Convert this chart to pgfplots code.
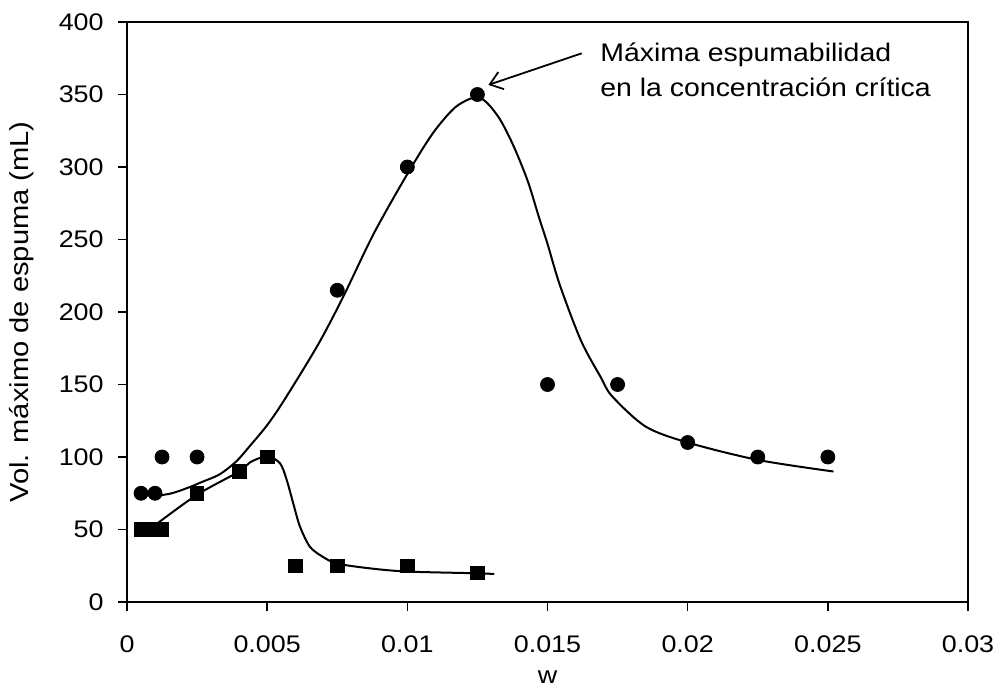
\documentclass[border=0pt]{standalone}
\usepackage{fontspec}
\setmainfont{Liberation Sans}[FakeStretch=1.12]
\usepackage{pgfplots}
\pgfplotsset{compat=1.18}
\usetikzlibrary{arrows.meta}

\begin{document}
\begin{tikzpicture}[x=1bp,y=1bp]
\useasboundingbox (0,0) rectangle (497.5,342);
\begin{axis}[
  at={(63.5bp,41bp)}, anchor=south west,
  scale only axis, width=420.5bp, height=290bp,
  xmin=0, xmax=0.03, ymin=0, ymax=400,
  xtick={0,0.005,0.01,0.015,0.02,0.025,0.03},
  xticklabels={0,0.005,0.01,0.015,0.02,0.025,0.03},
  ytick={0,50,...,400},
  tick align=outside, major tick length=4.5bp,
  xtick pos=bottom, ytick pos=left,
  axis line style={line width=0.75bp},
  every tick/.style={line width=0.75bp, black},
  font=\fontsize{12bp}{14bp}\selectfont,
  /pgf/number format/assume math mode=true,
  xticklabel style={anchor=north, inner sep=0pt, yshift=-12bp},
  yticklabel style={anchor=east, inner sep=0pt, xshift=-7bp},
  xlabel={w}, ylabel={Vol. máximo de espuma (mL)},
  xlabel style={at={(axis description cs:0.5,-0.13)}, anchor=center, inner sep=0pt},
  ylabel style={at={(axis description cs:-0.125,0.5)}, anchor=center, inner sep=0pt,
                font=\fontsize{13bp}{15bp}\selectfont},
  clip=false,
]
% fitted trend lines
\addplot[black, line width=1bp, smooth, no markers] coordinates {
  (0.001,73) (0.0016,75) (0.0022,79) (0.0027,83) (0.0033,88) (0.0039,97)
  (0.0044,108) (0.0050,122) (0.0056,139) (0.0068,177) (0.0077,210)
  (0.0088,254) (0.00998,294.5) (0.0109,323) (0.0117,341) (0.0124,348)
  (0.0128,345) (0.0133,333) (0.0138,314) (0.0143,290) (0.0147,265)
  (0.0150,247) (0.01545,218) (0.0162,180) (0.0169,155) (0.0173,142)
  (0.0185,121) (0.0200,110) (0.0225,98) (0.0252,90)};
\addplot[black, line width=1bp, smooth, no markers] coordinates {
  (0.001,53) (0.0025,74) (0.004,90) (0.0044,96.5) (0.0050,100.5)
  (0.00546,95.6) (0.0057,84) (0.00593,68) (0.00617,52) (0.00653,38)
  (0.007,31) (0.0075,26.5) (0.00867,23.2) (0.01,21) (0.0125,19.8) (0.0131,19.3)};
% measured points
\addplot[only marks, mark=*, mark size=3.5bp, black] coordinates {
  (0.0005,75) (0.001,75) (0.00125,100) (0.0025,100) (0.0075,215) (0.01,300)
  (0.0125,350) (0.015,150) (0.0175,150) (0.02,110) (0.0225,100) (0.025,100)};
\addplot[only marks, mark=square*, mark size=3.4bp, black] coordinates {
  (0.0005,50) (0.001,50) (0.00125,50) (0.0025,75) (0.004,90) (0.005,100)
  (0.006,25) (0.0075,25) (0.01,25) (0.0125,20)};
% annotation of the maximum
\draw[-{Straight Barb[length=6bp,width=9bp]}, line width=0.9bp]
  (axis cs:0.01622,378.4) -- (axis cs:0.01289,356.6);
\node[anchor=west, align=left, inner sep=0pt,
      font=\fontsize{12.7bp}{17.5bp}\selectfont]
  at (axis cs:0.01687,367.2) {Máxima espumabilidad\\en la concentración crítica};
\end{axis}
\end{tikzpicture}
\end{document}
